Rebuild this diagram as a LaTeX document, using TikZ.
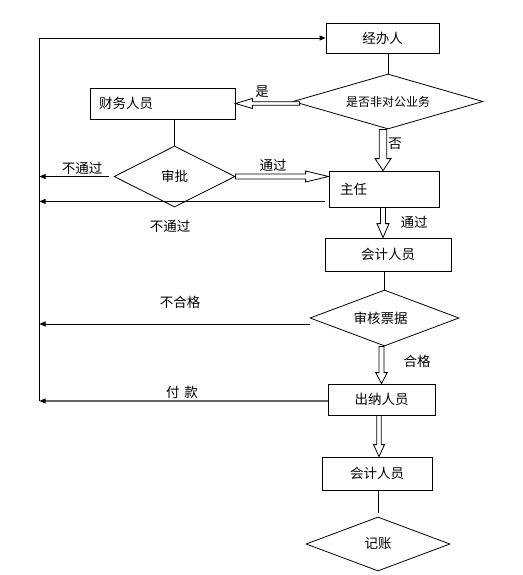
\documentclass[tikz,border=0pt]{standalone}
\usepackage{fontspec}
\setmainfont{Noto Sans CJK SC}
\usetikzlibrary{shapes.geometric,arrows.meta,calc}
% hollow (double-outline) arrows
\newcommand\vhollow[5]{\draw[hollow] let \p1=#1, \p2=#2 in
  (\x1-#3,\y1) -- (\x1-#3,\y2+#5) -- (\x1-#4,\y2+#5) -- (\x1,\y2) --
  (\x1+#4,\y2+#5) -- (\x1+#3,\y2+#5) -- (\x1+#3,\y1) -- cycle;}
\newcommand\rhollow[5]{\draw[hollow] let \p1=#1, \p2=#2 in
  (\x1,\y1-#3) -- (\x2-#5,\y1-#3) -- (\x2-#5,\y1-#4) -- (\x2,\y1) --
  (\x2-#5,\y1+#4) -- (\x2-#5,\y1+#3) -- (\x1,\y1+#3) -- cycle;}
\newcommand\lhollow[5]{\draw[hollow] let \p1=#1, \p2=#2 in
  (\x1,\y1-#3) -- (\x2+#5,\y1-#3) -- (\x2+#5,\y1-#4) -- (\x2,\y1) --
  (\x2+#5,\y1+#4) -- (\x2+#5,\y1+#3) -- (\x1,\y1+#3) -- cycle;}
\tikzset{
  every node/.style={font=\fontsize{13.5}{16}\selectfont},
  box/.style={draw, line width=0.8pt, inner sep=0pt},
  dia/.style={draw, diamond, aspect=3, line width=0.8pt, inner sep=0pt},
  lbl/.style={inner sep=0pt},
  conn/.style={line width=0.8pt},
  arr/.style={line width=0.8pt, -{Triangle[length=6pt,width=5pt]}},
  hollow/.style={draw, fill=white, line width=0.8pt, line join=miter},
}
\begin{document}
\begin{tikzpicture}[x=1pt,y=-1pt]
\useasboundingbox[fill=white] (0,0) rectangle (522,575);

% nodes
\node[box, minimum width=113pt, minimum height=30pt] (jbr) at (382.5,38) {经办人};
\node[dia, minimum width=190pt, minimum height=55pt, font=\fontsize{12}{14}\selectfont] (q1) at (388,101.5) {是否非对公业务};
\node[box, minimum width=145pt, minimum height=31pt, text width=127pt, align=left, inner xsep=9pt] (cw) at (162.5,103.5) {财务人员};
\node[dia, minimum width=121pt, minimum height=61pt] (sp) at (174.5,176.5) {审批};
\node[box, minimum width=110pt, minimum height=36pt, text width=88pt, align=left, inner xsep=11pt] (zr) at (384,189) {主任};
\node[box, minimum width=126pt, minimum height=33pt] (kj1) at (388,254.5) {会计人员};
\node[dia, minimum width=149pt, minimum height=56pt] (sh) at (384.5,318) {\hspace*{-8pt}审核票据};
\node[box, minimum width=107pt, minimum height=31pt] (cn) at (381.5,399.5) {出纳人员};
\node[box, minimum width=110pt, minimum height=33pt] (kj2) at (377,473.5) {会计人员};
\node[dia, minimum width=144pt, minimum height=54pt] (jz) at (378,544) {记账};

% left return line
\coordinate (lt) at (39.5,38);
\coordinate (lb) at (39.5,401);
\draw[arr] (lb) -- (lt) -- (jbr.west);

% plain connectors
\draw[conn] (q1.north |- jbr.south) -- (q1.north);
\draw[conn] (cw.south -| sp.north) -- (sp.north);
\draw[conn] (kj1.south -| sh.north) -- ($(sh.north)+(0,1)$);
\draw[conn] (kj2.south -| jz.north) -- ($(jz.north)+(0,-4)$);

% rejection arrows to the left line
\draw[arr] ($(sp.west)+(-5,0)$) -- (lb |- sp.west);
\coordinate (zrout) at ($(zr.south west)+(-4,-6)$);
\draw[arr] (zrout) -- (lb |- zrout);
\coordinate (shout) at ($(sh.west)+(0,6)$);
\draw[arr] (shout) -- (lb |- shout);
\coordinate (cnout) at ($(cn.west)+(0,1.5)$);
\draw[line width=1.2pt, draw=black!60, -{Triangle[length=6pt,width=5pt,color=black]}] (cnout) -- (lb);

% hollow arrows
\lhollow{($(q1.west)+(7,2)$)}{(cw.east)}{1.8pt}{5pt}{17pt}
\vhollow{($(q1.south)+(-5,0)$)}{(zr.north)}{3.8pt}{8pt}{12pt}
\rhollow{(sp.east)}{(zr.west)}{2.5pt}{5.5pt}{23pt}
\vhollow{($(zr.south)+(-1,0)$)}{(kj1.north)}{2.5pt}{6pt}{14pt}
\vhollow{($(sh.south)+(-3,0)$)}{(cn.north)}{2.5pt}{5.8pt}{11pt}
\vhollow{($(cn.south)+(-2.5,0)$)}{(kj2.north)}{2.2pt}{5.5pt}{12pt}

% labels
\node[lbl] (lshi) at (262,92) {是};
\node[lbl] (lfou) at (395,144) {否};
\node[lbl] (lbtg1) at (82,168) {不通过};
\node[lbl] (ltg1) at (273,165) {通过};
\node[lbl] (lbtg2) at (170,226) {不通过};
\node[lbl] (ltg2) at (414,222) {通过};
\node[lbl] (lbhg) at (180,302) {不合格};
\node[lbl] (lhg) at (417,361) {合格};
\node[lbl] (lfk) at (182,392) {付\hspace{5pt}款};
\end{tikzpicture}
\end{document}
